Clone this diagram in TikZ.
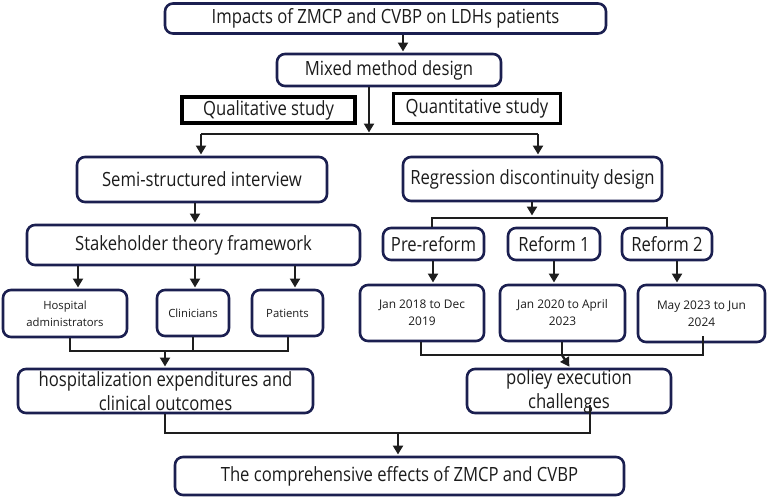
\documentclass[tikz,border=0pt]{standalone}
\usepackage{fontspec}
\setmainfont[FakeStretch=0.85]{Open Sans}
\newfontfamily\plainsans{Open Sans}
\usetikzlibrary{arrows.meta,calc}
\definecolor{boxline}{RGB}{27,31,80}
\definecolor{ink}{RGB}{28,28,28}
\definecolor{wirec}{RGB}{30,30,30}

\begin{document}
\begin{tikzpicture}[x=1pt,y=-1pt,
  rbox/.style={draw=boxline,line width=2.6pt,rounded corners=8pt,fill=white,
    inner sep=0pt,align=center,text=ink,font=\fontsize{19.6}{24}\selectfont},
  smalltext/.style={font=\plainsans\fontsize{11.3}{17}\selectfont},
  datetext/.style={font=\plainsans\fontsize{11.9}{17}\selectfont},
  sqbox/.style={draw=black,line width=3.4pt,fill=white,inner sep=0pt,
    align=center,text=ink,font=\fontsize{19.6}{24}\selectfont},
  wire/.style={draw=wirec,line width=2.4pt},
  arr/.style={wire,-{Triangle[length=9pt,width=10pt]},shorten >=1.2pt}]

\useasboundingbox (0,0) rectangle (767,498);

% ---- boxes ----
\node[rbox,minimum width=441pt,minimum height=30pt] (top) at (385.5,18.5)
  {Impacts of ZMCP and CVBP on LDHs patients};
\node[rbox,minimum width=224pt,minimum height=32pt] (mixed) at (389,70)
  {Mixed method design};
\node[sqbox,minimum width=173pt,minimum height=26pt] (qual) at (268.5,110)
  {Qualitative study};
\node[sqbox,minimum width=167pt,minimum height=30pt] (quant) at (477,108.5)
  {Quantitative study};

\node[rbox,minimum width=250pt,minimum height=45pt] (semi) at (202,179.5)
  {Semi-structured interview};
\node[rbox,minimum width=259pt,minimum height=44pt] (regr) at (532.5,179)
  {Regression discontinuity design};

\node[rbox,minimum width=333pt,minimum height=40pt] (stake) at (193.5,245)
  {Stakeholder theory framework};
\node[rbox,minimum width=101pt,minimum height=32pt] (pre) at (433.5,244)
  {Pre-reform};
\node[rbox,minimum width=92pt,minimum height=32pt] (ref1) at (554,244)
  {Reform 1};
\node[rbox,minimum width=90pt,minimum height=32pt] (ref2) at (667,244)
  {Reform 2};

\node[rbox,smalltext,minimum width=124pt,minimum height=47pt] (hosp) at (65,313.5)
  {Hospital\\administrators};
\node[rbox,smalltext,minimum width=72pt,minimum height=46pt] (clin) at (193,313)
  {Clinicians};
\node[rbox,smalltext,minimum width=71pt,minimum height=46pt] (pat) at (287.5,313)
  {Patients};
\node[rbox,datetext,minimum width=124pt,minimum height=56pt] (p0) at (422,313)
  {Jan 2018 to Dec\\2019};
\node[rbox,datetext,minimum width=125pt,minimum height=56pt] (p1) at (562.5,313)
  {Jan 2020 to April\\2023};
\node[rbox,datetext,minimum width=127pt,minimum height=57pt] (p2) at (701.5,313.5)
  {May 2023 to Jun\\2024};

\node[rbox,minimum width=295pt,minimum height=44pt] (cost) at (165.5,391)
  {hospitalization expenditures and\\clinical outcomes};
\node[rbox,minimum width=204pt,minimum height=44pt] (policy) at (569,391)
  {poliey execution\\challenges};

\node[rbox,minimum width=449pt,minimum height=38pt] (final) at (399.5,476)
  {The comprehensive effects of ZMCP and CVBP};

% ---- junction points ----
\coordinate (xa) at (403,0);
\coordinate (ja) at (369,134);
\coordinate (jaL) at (201,134);
\coordinate (jaR) at (538,134);
\coordinate (xb) at (195,0);
\coordinate (jb) at (532,218);
\coordinate (jbL) at (432,218);
\coordinate (jbR) at (667,218);
\coordinate (xs1) at (78,0);
\coordinate (xs3) at (295,0);
\coordinate (xr0) at (433,0);
\coordinate (xr1) at (554,0);
\coordinate (xr2) at (677,0);
\coordinate (jc) at (165,351);
\coordinate (jcL) at (70,351);
\coordinate (jcM) at (193,351);
\coordinate (jcR) at (288,351);
\coordinate (jd) at (562,355);
\coordinate (jdL) at (421,355);
\coordinate (jdR) at (703,355);
\coordinate (jdS) at (703,336);
\coordinate (xd) at (570,0);
\coordinate (je) at (398,433);
\coordinate (jeL) at (165,433);
\coordinate (jeR) at (590,433);
\coordinate (jeS) at (590,405);

% ---- connectors ----
\draw[arr] (top.south -| xa) -- (mixed.north -| xa);
\draw[arr,shorten >=0pt] (mixed.south -| ja) -- ($(ja)+(0,-1.5)$);
\draw[wire] (jaL) -- (jaR);
\draw[arr] (jaL) -- (semi.north -| jaL);
\draw[arr] (jaR) -- (regr.north -| jaR);

\draw[arr] (semi.south -| xb) -- (stake.north -| xb);
\draw[arr,shorten >=0pt] (regr.south -| jb) -- ($(jb)+(0,-2.5)$);
\draw[wire] (pre.north -| jbL) |- (jbR) -- (ref2.north -| jbR);

\draw[arr] (stake.south -| xs1) -- (hosp.north -| xs1);
\draw[arr] (stake.south -| xb) -- (clin.north -| xb);
\draw[arr] (stake.south -| xs3) -- (pat.north -| xs3);
\draw[arr] (pre.south -| xr0) -- (p0.north -| xr0);
\draw[arr] (ref1.south -| xr1) -- (p1.north -| xr1);
\draw[arr] (ref2.south -| xr2) -- (p2.north -| xr2);

\draw[wire] (hosp.south -| jcL) |- (jcR) -- (pat.south -| jcR);
\draw[wire] (clin.south -| jcM) -- (jcM);
\draw[arr] (jc) -- (cost.north -| jc);

\draw[wire] (p0.south -| jdL) |- (jdR) -- (jdS);
\draw[wire] (p1.south -| jd) -- (jd);
\draw[arr] (jd) -- (policy.north -| xd);

\draw[wire] (cost.south -| jeL) |- (jeR) -- (jeS);
\draw[arr] (je) -- (final.north -| je);

\end{tikzpicture}
\end{document}
